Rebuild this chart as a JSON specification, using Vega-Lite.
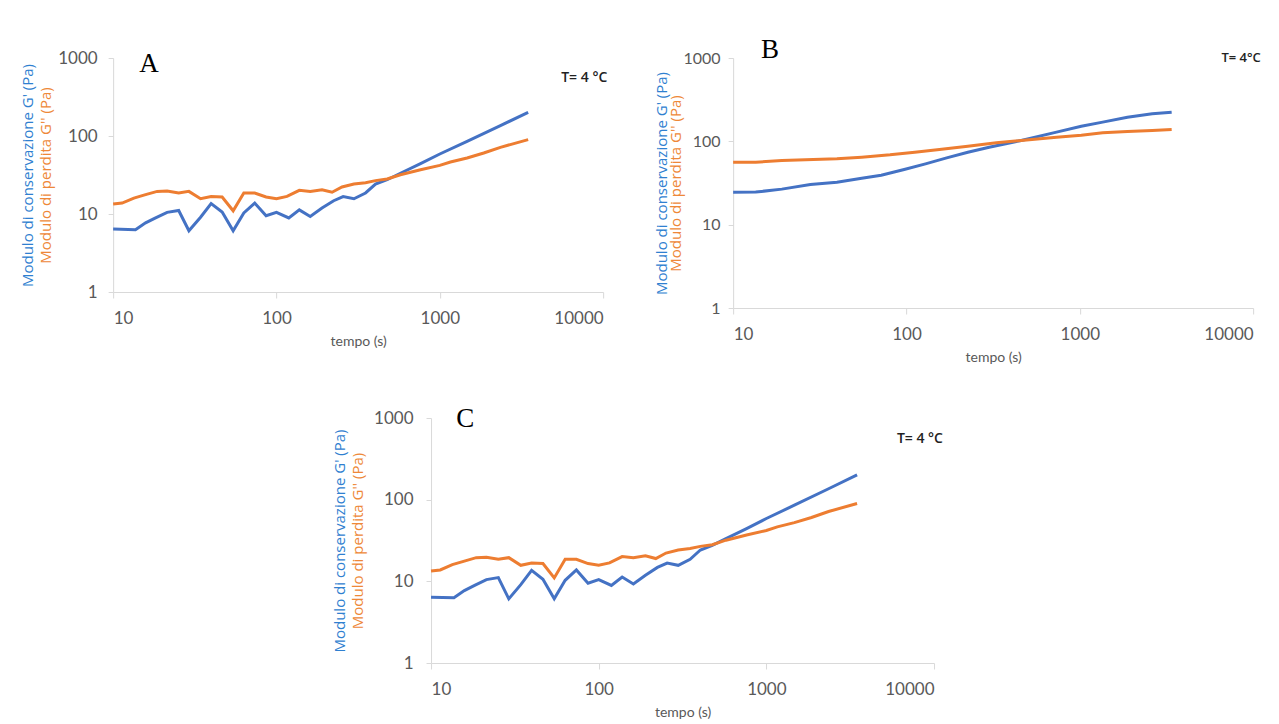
{
  "$schema": "https://vega.github.io/schema/vega-lite/v6.json",
  "background": "white",
  "padding": {"left": 20, "top": 35, "right": 0, "bottom": 0},
  "datasets": {
    "AC": [
      {"s": "G'", "t": 10, "G": 6.4}, {"s": "G'", "t": 13.7, "G": 6.3}, {"s": "G'", "t": 15.8, "G": 7.7},
      {"s": "G'", "t": 18.2, "G": 8.9}, {"s": "G'", "t": 21.4, "G": 10.5}, {"s": "G'", "t": 25.2, "G": 11.1},
      {"s": "G'", "t": 29.1, "G": 6.1}, {"s": "G'", "t": 34.3, "G": 9.1}, {"s": "G'", "t": 39.8, "G": 13.6},
      {"s": "G'", "t": 46.5, "G": 10.6}, {"s": "G'", "t": 54.3, "G": 6.1}, {"s": "G'", "t": 63.1, "G": 10.3},
      {"s": "G'", "t": 73.6, "G": 13.8}, {"s": "G'", "t": 86.4, "G": 9.5}, {"s": "G'", "t": 100, "G": 10.5},
      {"s": "G'", "t": 119, "G": 8.9}, {"s": "G'", "t": 138, "G": 11.3}, {"s": "G'", "t": 161, "G": 9.3},
      {"s": "G'", "t": 190, "G": 11.9}, {"s": "G'", "t": 224, "G": 14.8}, {"s": "G'", "t": 256, "G": 16.7},
      {"s": "G'", "t": 298, "G": 15.7}, {"s": "G'", "t": 351, "G": 18.6}, {"s": "G'", "t": 404, "G": 24.2},
      {"s": "G'", "t": 476, "G": 27.5}, {"s": "G'", "t": 574, "G": 33.3}, {"s": "G'", "t": 762, "G": 44.2},
      {"s": "G'", "t": 1000, "G": 58.8}, {"s": "G'", "t": 1469, "G": 85.5}, {"s": "G'", "t": 2350, "G": 136},
      {"s": "G'", "t": 3475, "G": 201},
      {"s": "G''", "t": 10, "G": 13.4}, {"s": "G''", "t": 11.35, "G": 13.8}, {"s": "G''", "t": 13.4, "G": 16.0},
      {"s": "G''", "t": 15.8, "G": 17.7}, {"s": "G''", "t": 18.6, "G": 19.5}, {"s": "G''", "t": 21.4, "G": 19.7},
      {"s": "G''", "t": 25.2, "G": 18.6}, {"s": "G''", "t": 29.1, "G": 19.5}, {"s": "G''", "t": 34.3, "G": 15.7},
      {"s": "G''", "t": 39.8, "G": 16.8}, {"s": "G''", "t": 46.5, "G": 16.5}, {"s": "G''", "t": 54.3, "G": 11.0},
      {"s": "G''", "t": 63.1, "G": 18.6}, {"s": "G''", "t": 73.6, "G": 18.6}, {"s": "G''", "t": 86.4, "G": 16.5},
      {"s": "G''", "t": 100, "G": 15.7}, {"s": "G''", "t": 116, "G": 16.8}, {"s": "G''", "t": 138, "G": 20.1},
      {"s": "G''", "t": 161, "G": 19.5}, {"s": "G''", "t": 190, "G": 20.5}, {"s": "G''", "t": 219, "G": 19.0},
      {"s": "G''", "t": 252, "G": 22.2}, {"s": "G''", "t": 298, "G": 24.2}, {"s": "G''", "t": 351, "G": 25.2},
      {"s": "G''", "t": 404, "G": 26.8}, {"s": "G''", "t": 476, "G": 28.1}, {"s": "G''", "t": 574, "G": 31.9},
      {"s": "G''", "t": 762, "G": 37.0}, {"s": "G''", "t": 1000, "G": 42.0}, {"s": "G''", "t": 1162, "G": 46.4},
      {"s": "G''", "t": 1469, "G": 52.3}, {"s": "G''", "t": 1858, "G": 60.5}, {"s": "G''", "t": 2350, "G": 71.6},
      {"s": "G''", "t": 3475, "G": 89.8}
    ],
    "B": [
      {"s": "G'", "t": 10, "G": 24.5}, {"s": "G'", "t": 13.5, "G": 24.6}, {"s": "G'", "t": 19.1, "G": 26.7},
      {"s": "G'", "t": 27.9, "G": 30.3}, {"s": "G'", "t": 39.7, "G": 32.3}, {"s": "G'", "t": 55.2, "G": 36.1},
      {"s": "G'", "t": 71.5, "G": 39.1}, {"s": "G'", "t": 97, "G": 45.9}, {"s": "G'", "t": 128.8, "G": 53.7},
      {"s": "G'", "t": 170.6, "G": 63.4}, {"s": "G'", "t": 226, "G": 74.1}, {"s": "G'", "t": 300, "G": 85.1},
      {"s": "G'", "t": 459, "G": 102.4}, {"s": "G'", "t": 734, "G": 129}, {"s": "G'", "t": 1020, "G": 152},
      {"s": "G'", "t": 1355, "G": 170}, {"s": "G'", "t": 1883, "G": 195}, {"s": "G'", "t": 2617, "G": 214},
      {"s": "G'", "t": 3388, "G": 224},
      {"s": "G''", "t": 10, "G": 56.2}, {"s": "G''", "t": 13.5, "G": 56.2}, {"s": "G''", "t": 19.1, "G": 58.9},
      {"s": "G''", "t": 39.7, "G": 61.7}, {"s": "G''", "t": 55.2, "G": 64.6}, {"s": "G''", "t": 80.4, "G": 68.9},
      {"s": "G''", "t": 111.7, "G": 74.1}, {"s": "G''", "t": 155, "G": 79.8}, {"s": "G''", "t": 226, "G": 87.5},
      {"s": "G''", "t": 330, "G": 96}, {"s": "G''", "t": 459, "G": 102.4}, {"s": "G''", "t": 734, "G": 112},
      {"s": "G''", "t": 1020, "G": 118}, {"s": "G''", "t": 1355, "G": 126.6}, {"s": "G''", "t": 1883, "G": 131},
      {"s": "G''", "t": 2617, "G": 135}, {"s": "G''", "t": 3388, "G": 139}
    ],
    "ann": [
      {"panel": "A", "kind": "letter", "label": "A", "t": 16.6, "G": 826},
      {"panel": "A", "kind": "temp", "label": "T= 4 °C", "t": 7660, "G": 562},
      {"panel": "B", "kind": "letter", "label": "B", "t": 16.3, "G": 1250},
      {"panel": "B", "kind": "temp", "label": "T= 4°C", "t": 8530, "G": 1000},
      {"panel": "C", "kind": "letter", "label": "C", "t": 16, "G": 984},
      {"panel": "C", "kind": "temp", "label": "T= 4 °C", "t": 8240, "G": 552}
    ]
  },
  "config": {
    "view": {"stroke": null},
    "axis": {
      "grid": false, "domainColor": "#d9d9d9", "tickColor": "#d9d9d9", "labelColor": "#595959",
      "labelFont": "Lato", "labelFontSize": 17, "titleFont": "Open Sans", "titleFontSize": 15, "titleFontWeight": "normal"
    },
    "axisX": {"tickSize": 6, "labelPadding": 12, "titleFont": "Lato", "titleFontSize": 14, "titleColor": "#595959", "titlePadding": 8}
  },
  "vconcat": [
    {
      "hconcat": [
        {
          "width": 490, "height": 234,
          "layer": [
            {
              "data": {"name": "AC"}, "transform": [{"filter": "datum.s == \"G'\""}],
              "mark": {"type": "line", "color": "#4472C4", "strokeWidth": 3},
              "encoding": {
                "x": {"field": "t", "type": "quantitative", "scale": {"type": "log", "domain": [10, 10000]}, "axis": {"title": "tempo  (s)", "values": [10, 100, 1000, 10000], "format": "d"}},
                "y": {"field": "G", "type": "quantitative", "scale": {"type": "log", "domain": [1, 1000]},
                  "axis": {"orient": "left", "offset": 76, "labels": false, "ticks": false, "domain": false, "title": "Modulo di conservazione G' (Pa)", "titleColor": "#2F80D0", "titlePadding": 2}}
              }
            },
            {
              "data": {"name": "AC"}, "transform": [{"filter": "datum.s == \"G''\""}],
              "mark": {"type": "line", "color": "#ED7D31", "strokeWidth": 3},
              "encoding": {
                "x": {"field": "t", "type": "quantitative", "scale": {"type": "log", "domain": [10, 10000]}, "axis": {"title": "tempo  (s)", "values": [10, 100, 1000, 10000], "format": "d"}},
                "y": {"field": "G", "type": "quantitative", "scale": {"type": "log", "domain": [1, 1000]},
                  "axis": {"orient": "left", "values": [1, 10, 100, 1000], "format": "d", "tickSize": 5, "labelPadding": 11, "title": "Modulo di perdita G'' (Pa)", "titleColor": "#EE8838", "titlePadding": 4}}
              }
            },
            {
              "data": {"name": "ann"}, "transform": [{"filter": "datum.panel == 'A' && datum.kind == 'letter'"}],
              "mark": {"type": "text", "font": "Liberation Serif", "fontSize": 27, "color": "black"},
              "encoding": {
                "x": {"field": "t", "type": "quantitative", "scale": {"type": "log", "domain": [10, 10000]}, "axis": {"title": "tempo  (s)", "values": [10, 100, 1000, 10000], "format": "d"}},
                "y": {"field": "G", "type": "quantitative", "scale": {"type": "log", "domain": [1, 1000]}, "axis": null},
                "text": {"field": "label"}
              }
            },
            {
              "data": {"name": "ann"}, "transform": [{"filter": "datum.panel == 'A' && datum.kind == 'temp'"}],
              "mark": {"type": "text", "font": "Open Sans", "fontSize": 14, "fontWeight": 600, "color": "#222222"},
              "encoding": {
                "x": {"field": "t", "type": "quantitative", "scale": {"type": "log", "domain": [10, 10000]}, "axis": {"title": "tempo  (s)", "values": [10, 100, 1000, 10000], "format": "d"}},
                "y": {"field": "G", "type": "quantitative", "scale": {"type": "log", "domain": [1, 1000]}, "axis": null},
                "text": {"field": "label"}
              }
            }
          ],
          "resolve": {"axis": {"y": "independent"}}
        },
        {
          "width": 520, "height": 250,
          "layer": [
            {
              "data": {"name": "B"}, "transform": [{"filter": "datum.s == \"G'\""}],
              "mark": {"type": "line", "color": "#4472C4", "strokeWidth": 3},
              "encoding": {
                "x": {"field": "t", "type": "quantitative", "scale": {"type": "log", "domain": [10, 10000]}, "axis": {"title": "tempo (s)", "values": [10, 100, 1000, 10000], "format": "d"}},
                "y": {"field": "G", "type": "quantitative", "scale": {"type": "log", "domain": [1, 1000]},
                  "axis": {"orient": "left", "offset": 64, "labels": false, "ticks": false, "domain": false, "title": "Modulo di conservazione G' (Pa)", "titleColor": "#2F80D0", "titlePadding": 0}}
              }
            },
            {
              "data": {"name": "B"}, "transform": [{"filter": "datum.s == \"G''\""}],
              "mark": {"type": "line", "color": "#ED7D31", "strokeWidth": 3},
              "encoding": {
                "x": {"field": "t", "type": "quantitative", "scale": {"type": "log", "domain": [10, 10000]}, "axis": {"title": "tempo (s)", "values": [10, 100, 1000, 10000], "format": "d"}},
                "y": {"field": "G", "type": "quantitative", "scale": {"type": "log", "domain": [1, 1000]},
                  "axis": {"orient": "left", "values": [1, 10, 100, 1000], "format": "d", "tickSize": 5, "labelPadding": 8, "labelFontSize": 16, "title": "Modulo di perdita G'' (Pa)", "titleColor": "#EE8838", "titlePadding": 0}}
              }
            },
            {
              "data": {"name": "ann"}, "transform": [{"filter": "datum.panel == 'B' && datum.kind == 'letter'"}],
              "mark": {"type": "text", "font": "Liberation Serif", "fontSize": 27, "color": "black"},
              "encoding": {
                "x": {"field": "t", "type": "quantitative", "scale": {"type": "log", "domain": [10, 10000]}, "axis": {"title": "tempo (s)", "values": [10, 100, 1000, 10000], "format": "d"}},
                "y": {"field": "G", "type": "quantitative", "scale": {"type": "log", "domain": [1, 1000]}, "axis": null},
                "text": {"field": "label"}
              }
            },
            {
              "data": {"name": "ann"}, "transform": [{"filter": "datum.panel == 'B' && datum.kind == 'temp'"}],
              "mark": {"type": "text", "font": "Open Sans", "fontSize": 13, "fontWeight": 600, "color": "#222222"},
              "encoding": {
                "x": {"field": "t", "type": "quantitative", "scale": {"type": "log", "domain": [10, 10000]}, "axis": {"title": "tempo (s)", "values": [10, 100, 1000, 10000], "format": "d"}},
                "y": {"field": "G", "type": "quantitative", "scale": {"type": "log", "domain": [1, 1000]}, "axis": null},
                "text": {"field": "label"}
              }
            }
          ],
          "resolve": {"axis": {"y": "independent"}}
        }
      ],
      "spacing": 46
    },
    {
      "width": 503, "height": 245,
      "layer": [
        {
          "data": {"name": "AC"}, "transform": [{"filter": "datum.s == \"G'\""}],
          "mark": {"type": "line", "color": "#4472C4", "strokeWidth": 3},
          "encoding": {
            "x": {"field": "t", "type": "quantitative", "scale": {"type": "log", "domain": [10, 10000]}, "axis": {"title": "tempo  (s)", "values": [10, 100, 1000, 10000], "format": "d"}},
            "y": {"field": "G", "type": "quantitative", "scale": {"type": "log", "domain": [1, 1000]},
              "axis": {"orient": "left", "offset": 82, "labels": false, "ticks": false, "domain": false, "title": "Modulo di conservazione G' (Pa)", "titleColor": "#2F80D0", "titlePadding": 2}}
          }
        },
        {
          "data": {"name": "AC"}, "transform": [{"filter": "datum.s == \"G''\""}],
          "mark": {"type": "line", "color": "#ED7D31", "strokeWidth": 3},
          "encoding": {
            "x": {"field": "t", "type": "quantitative", "scale": {"type": "log", "domain": [10, 10000]}, "axis": {"title": "tempo  (s)", "values": [10, 100, 1000, 10000], "format": "d"}},
            "y": {"field": "G", "type": "quantitative", "scale": {"type": "log", "domain": [1, 1000]},
              "axis": {"orient": "left", "values": [1, 10, 100, 1000], "format": "d", "tickSize": 5, "labelPadding": 13, "title": "Modulo di perdita G'' (Pa)", "titleColor": "#EE8838", "titlePadding": 8}}
          }
        },
        {
          "data": {"name": "ann"}, "transform": [{"filter": "datum.panel == 'C' && datum.kind == 'letter'"}],
          "mark": {"type": "text", "font": "Liberation Serif", "fontSize": 27, "color": "black"},
          "encoding": {
            "x": {"field": "t", "type": "quantitative", "scale": {"type": "log", "domain": [10, 10000]}, "axis": {"title": "tempo  (s)", "values": [10, 100, 1000, 10000], "format": "d"}},
            "y": {"field": "G", "type": "quantitative", "scale": {"type": "log", "domain": [1, 1000]}, "axis": null},
            "text": {"field": "label"}
          }
        },
        {
          "data": {"name": "ann"}, "transform": [{"filter": "datum.panel == 'C' && datum.kind == 'temp'"}],
          "mark": {"type": "text", "font": "Open Sans", "fontSize": 14, "fontWeight": 600, "color": "#222222"},
          "encoding": {
            "x": {"field": "t", "type": "quantitative", "scale": {"type": "log", "domain": [10, 10000]}, "axis": {"title": "tempo  (s)", "values": [10, 100, 1000, 10000], "format": "d"}},
            "y": {"field": "G", "type": "quantitative", "scale": {"type": "log", "domain": [1, 1000]}, "axis": null},
            "text": {"field": "label"}
          }
        }
      ],
      "resolve": {"axis": {"y": "independent"}}
    }
  ],
  "spacing": 40,
  "center": true
}
